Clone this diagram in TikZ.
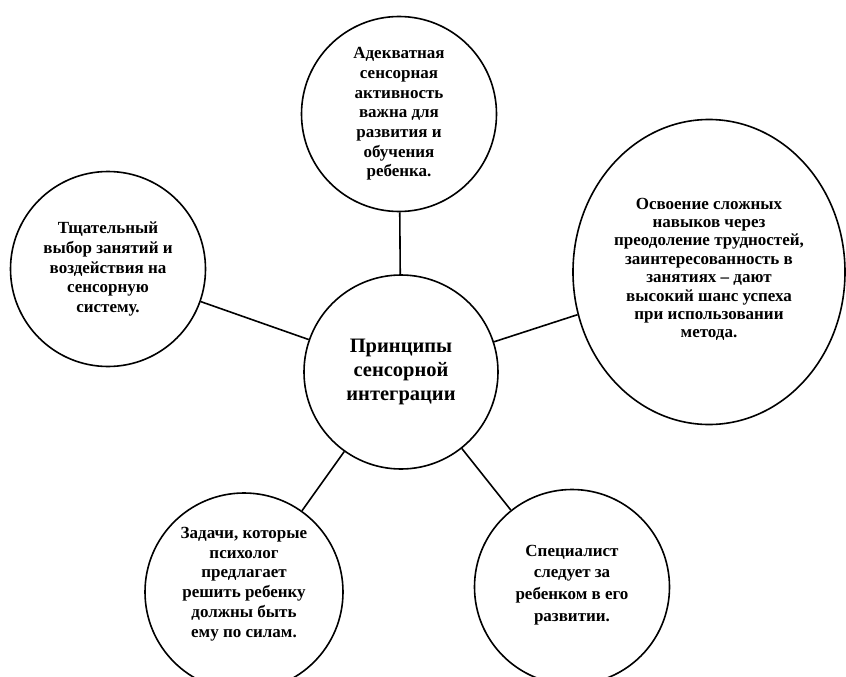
\documentclass[tikz,border=0pt]{standalone}
\usepackage{fontspec}
\setmainfont{Liberation Serif}
\usepackage{tikz}
\usetikzlibrary{shapes,shapes.geometric,positioning,calc}

\begin{document}
\begin{tikzpicture}[
    x=1pt, y=-1pt,
    idea/.style={circle, draw, line width=1.6pt, minimum size=195pt, inner sep=0pt, align=center, font=\fontsize{17}{19.7}\selectfont\bfseries},
    core/.style={circle, draw, line width=1.6pt, minimum size=194pt, inner sep=0pt, align=center, font=\fontsize{20.5}{24}\selectfont\bfseries},
    wide/.style={ellipse, draw, line width=1.6pt, minimum width=272pt, minimum height=305pt, inner sep=0pt, align=center, font=\fontsize{17}{18.4}\selectfont\bfseries},
    link/.style={line width=1.6pt}
]
    \useasboundingbox (0,0) rectangle (846,677);

    % Center: principles
    \node[core] (core) at (401,372) {Принципы\\сенсорной\\интеграции};

    % Surrounding ideas
    \node[idea] (adequate) at (399,114) {Адекватная\\сенсорная\\активность\\важна для\\развития и\\обучения\\ребенка.};
    \node[idea] (choice) at (108,269) {Тщательный\\выбор занятий и\\воздействия на\\сенсорную\\систему.};
    \node[wide] (mastery) at (709,272) {Освоение сложных\\навыков через\\преодоление трудностей,\\заинтересованность в\\занятиях -- дают\\высокий шанс успеха\\при использовании\\метода.\\[-10pt]};
    \node[idea, minimum size=198pt] (tasks) at (244,592) {Задачи, которые\\психолог\\предлагает\\решить ребенку\\должны быть\\ему по силам.\\};
    \node[idea, font=\fontsize{17}{21.7}\selectfont\bfseries] (specialist) at (572,587) {Специалист\\следует за\\ребенком в его\\развитии.\\[-14pt]};

    % Connectors
    \draw[link] (core) -- (adequate);
    \draw[link] (core) -- (choice);
    \draw[link] (core) -- (mastery);
    \draw[link] (core) -- (tasks);
    \draw[link] (core) -- (specialist);
\end{tikzpicture}
\end{document}
